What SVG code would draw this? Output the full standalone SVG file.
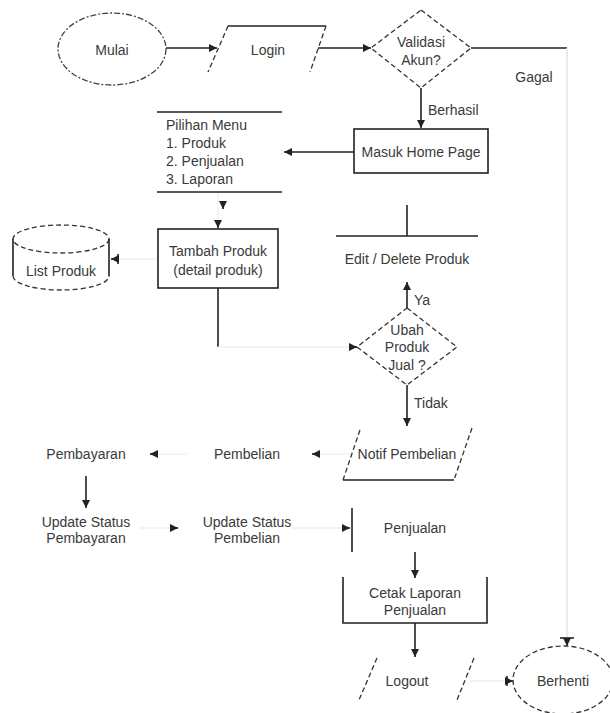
<svg xmlns="http://www.w3.org/2000/svg" width="610" height="713" viewBox="0 0 610 713">
<defs>
<marker id="ah" viewBox="0 0 8 8" refX="8" refY="4" markerWidth="8" markerHeight="8" markerUnits="userSpaceOnUse" orient="auto">
<path d="M0,0 L8,4 L0,8 z" fill="#222"/>
</marker>
<style>
text{font-family:"Liberation Sans",Arial,sans-serif;font-size:14px;fill:#3a3a3a;text-anchor:middle;dominant-baseline:central}
.l{text-anchor:start}
.s{fill:none;stroke:#222;stroke-width:1.6}
.d{fill:none;stroke:#333;stroke-width:1.3;stroke-dasharray:5,3}
.dd{fill:none;stroke:#444;stroke-width:1.3;stroke-dasharray:6,2,2,2}
.c{fill:none;stroke:#222;stroke-width:1.6}
.f{fill:none;stroke:#efefef;stroke-width:1.4}
.g{fill:none;stroke:#e2e2e2;stroke-width:1.4}
</style>
</defs>
<rect width="610" height="713" fill="#fff"/>
<g id="connectors">
<line class="c" x1="166" y1="48" x2="217" y2="48" marker-end="url(#ah)"/>
<line class="c" x1="318" y1="48" x2="371" y2="48" marker-end="url(#ah)"/>
<line class="c" x1="471" y1="48" x2="567" y2="48"/>
<line class="g" x1="567" y1="48" x2="567" y2="638"/>
<line class="c" x1="567" y1="638" x2="567" y2="646" marker-end="url(#ah)"/>
<line class="c" x1="560" y1="638" x2="574" y2="638"/>
<line class="c" x1="421" y1="88" x2="421" y2="128" marker-end="url(#ah)"/>
<line class="c" x1="354" y1="152" x2="284" y2="152" marker-end="url(#ah)"/>
<line class="f" x1="218" y1="192" x2="218" y2="222"/>
<line class="c" x1="223" y1="204" x2="223" y2="209" marker-end="url(#ah)"/>
<line class="c" x1="218" y1="222" x2="218" y2="228" marker-end="url(#ah)"/>
<line class="c" x1="218" y1="288" x2="218" y2="347"/>
<line class="f" x1="218" y1="347" x2="350" y2="347"/>
<line class="c" x1="350" y1="347" x2="357" y2="347" marker-end="url(#ah)"/>
<line class="f" x1="158" y1="259" x2="118" y2="259"/>
<line class="c" x1="118" y1="259" x2="111" y2="259" marker-end="url(#ah)"/>
<line class="c" x1="118" y1="254" x2="118" y2="264"/>
<line class="c" x1="407" y1="308" x2="407" y2="282" marker-end="url(#ah)"/>
<line class="c" x1="407" y1="205" x2="407" y2="236"/>
<line class="c" x1="407" y1="385" x2="407" y2="426" marker-end="url(#ah)"/>
<line class="f" x1="352" y1="454" x2="320" y2="454"/>
<line class="c" x1="320" y1="454" x2="312" y2="454" marker-end="url(#ah)"/>
<line class="f" x1="187" y1="454" x2="158" y2="454"/>
<line class="c" x1="158" y1="454" x2="150" y2="454" marker-end="url(#ah)"/>
<line class="c" x1="86" y1="476" x2="86" y2="508" marker-end="url(#ah)"/>
<line class="f" x1="140" y1="528" x2="171" y2="528"/>
<line class="c" x1="171" y1="528" x2="178" y2="528" marker-end="url(#ah)"/>
<line class="f" x1="292" y1="528" x2="343" y2="528"/>
<line class="c" x1="343" y1="528" x2="350" y2="528" marker-end="url(#ah)"/>
<line class="c" x1="415" y1="552" x2="415" y2="578" marker-end="url(#ah)"/>
<line class="c" x1="415" y1="623" x2="415" y2="657" marker-end="url(#ah)"/>
<line class="f" x1="470" y1="681" x2="506" y2="681"/>
<line class="c" x1="506" y1="681" x2="513" y2="681" marker-end="url(#ah)"/>
<line class="c" x1="507" y1="676" x2="507" y2="686"/>
</g>
<g id="mulai">
<ellipse class="dd" cx="112" cy="49" rx="54" ry="36"/>
<text x="112" y="50">Mulai</text>
</g>
<g id="login">
<line class="s" x1="228" y1="26" x2="326" y2="26"/>
<line class="d" x1="228" y1="26" x2="208" y2="72"/>
<line class="d" x1="326" y1="26" x2="310" y2="72"/>
<text x="268" y="50">Login</text>
</g>
<g id="validasi">
<polygon class="d" points="421,10 471,48 421,88 371,48"/>
<text x="421" y="42">Validasi</text>
<text x="421" y="60">Akun?</text>
</g>
<g id="labels">
<text x="534" y="77">Gagal</text>
<text class="l" x="428" y="110">Berhasil</text>
<text class="l" x="414" y="300">Ya</text>
<text class="l" x="414" y="403">Tidak</text>
</g>
<g id="menu">
<line class="s" x1="157" y1="112" x2="282" y2="112"/>
<line class="s" x1="157" y1="192" x2="282" y2="192"/>
<text class="l" x="166" y="125">Pilihan Menu</text>
<text class="l" x="166" y="143">1. Produk</text>
<text class="l" x="166" y="161">2. Penjualan</text>
<text class="l" x="166" y="179">3. Laporan</text>
</g>
<g id="masuk">
<rect class="s" x="354" y="129" width="134" height="44"/>
<text x="421" y="152">Masuk Home Page</text>
</g>
<g id="listproduk">
<ellipse class="d" cx="61" cy="239" rx="48" ry="14"/>
<line class="s" x1="13" y1="239" x2="13" y2="276"/>
<line class="s" x1="109" y1="239" x2="109" y2="276"/>
<path class="d" d="M13,276 A48,14 0 0 0 109,276"/>
<text x="61" y="271">List Produk</text>
</g>
<g id="tambah">
<rect class="s" x="158" y="229" width="120" height="59"/>
<text x="218" y="251">Tambah Produk</text>
<text x="218" y="270">(detail produk)</text>
</g>
<g id="edit">
<line class="s" x1="336" y1="236" x2="478" y2="236"/>
<text x="407" y="259">Edit / Delete Produk</text>
</g>
<g id="ubah">
<polygon class="d" points="407,308 457,347 407,385 357,347" stroke="#666"/>
<text x="407" y="330">Ubah</text>
<text x="407" y="347">Produk</text>
<text x="407" y="365">Jual ?</text>
</g>
<g id="notif">
<line class="s" x1="343" y1="480" x2="454" y2="480"/>
<line class="d" x1="360" y1="430" x2="343" y2="480"/>
<line class="d" x1="472" y1="428" x2="454" y2="480"/>
<text x="407" y="454">Notif Pembelian</text>
</g>
<g id="pembelian">
<text x="247" y="454">Pembelian</text>
</g>
<g id="pembayaran">
<text x="86" y="454">Pembayaran</text>
</g>
<g id="update-pembayaran">
<text x="86" y="522">Update Status</text>
<text x="86" y="538">Pembayaran</text>
</g>
<g id="update-pembelian">
<text x="247" y="522">Update Status</text>
<text x="247" y="538">Pembelian</text>
</g>
<g id="penjualan">
<line class="s" x1="352" y1="508" x2="352" y2="552" stroke="#555"/>
<text x="415" y="528">Penjualan</text>
</g>
<g id="cetak">
<path class="s" d="M343,577 V623 H487 V577"/>
<text x="415" y="593">Cetak Laporan</text>
<text x="415" y="610">Penjualan</text>
</g>
<g id="logout">
<line class="d" x1="377" y1="658" x2="359" y2="700"/>
<line class="d" x1="474" y1="658" x2="457" y2="700"/>
<text x="407" y="681">Logout</text>
</g>
<g id="berhenti">
<ellipse class="d" cx="563" cy="680" rx="50" ry="34"/>
<text x="563" y="681">Berhenti</text>
</g>
</svg>
